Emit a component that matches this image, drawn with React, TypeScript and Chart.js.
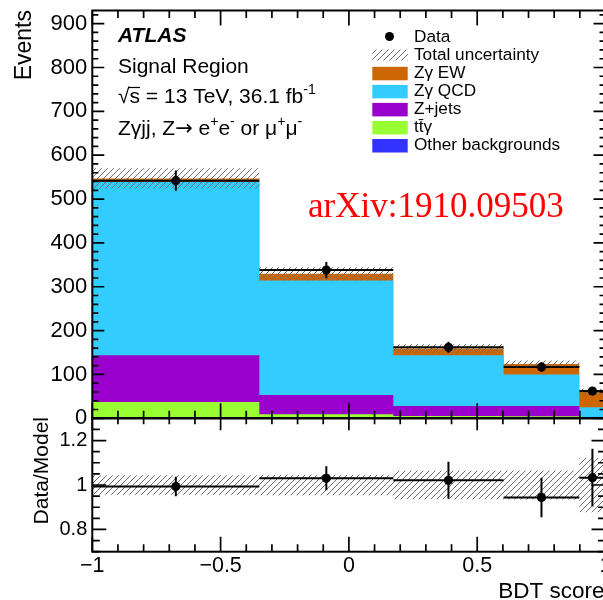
import React, { useEffect, useRef } from "react";
import { Chart, registerables } from "chart.js";

Chart.register(...registerables);

// ---------- data ----------
const binEdges = [-1, -0.349, 0.173, 0.603, 0.898, 1];
const otherBkg = [2.5, 2, 1.5, 1.5, 0.8];
const ttGamma = [34.5, 7.5, 3.5, 3, 0.7];
const zJets = [107, 43.5, 23, 23.5, 1.5];
const zgQCD = [395, 261, 116, 72, 22];
const zgEW = [8, 15.5, 15, 24, 35];
const totalUnc = [23, 15, 10, 8, 7.4];
const dataCounts = [542, 338, 162, 117, 62];
const dataErr = [23.3, 18.4, 12.7, 10.8, 7.9];
const ratioVals = [0.993, 1.03, 1.021, 0.944, 1.033];
const ratioErr = [0.044, 0.054, 0.083, 0.089, 0.13];
const ratioBand = [0.044, 0.046, 0.064, 0.065, 0.123];

const xMajorLabels = [-1, -0.5, 0, 0.5, 1];
const yMainLabels = [0, 100, 200, 300, 400, 500, 600, 700, 800, 900];
const yRatioLabels = [0.8, 1, 1.2];

const legendLabels = ["Data", "Total uncertainty", "Zγ EW", "Zγ QCD", "Z+jets", "tt̄γ", "Other backgrounds"];
const colEW = "#CC6600";
const colQCD = "#33CCFF";
const colZJ = "#9900CC";
const colTT = "#99FF33";
const colOther = "#3333FF";

// ---------- helpers ----------
const nB = binEdges.length - 1;
const centers = binEdges.slice(0, nB).map((e, i) => (e + binEdges[i + 1]) / 2);
const addArr = (a: number[], b: number[]) => a.map((v, i) => v + b[i]);
const cumOther = otherBkg;
const cumTT = addArr(cumOther, ttGamma);
const cumZJ = addArr(cumTT, zJets);
const cumQCD = addArr(cumZJ, zgQCD);
const cumEW = addArr(cumQCD, zgEW);

const stepPts = (vals: number[]) => [
  ...vals.map((v, i) => ({ x: binEdges[i], y: v })),
  { x: binEdges[nB], y: vals[nB - 1] },
];
const errSegs = (vals: number[], errs: number[]) => {
  const pts: { x: number; y: number | null }[] = [];
  vals.forEach((v, i) => {
    const c = centers[i];
    pts.push({ x: c, y: v - errs[i] }, { x: c, y: v + errs[i] }, { x: c, y: null });
    pts.push({ x: binEdges[i], y: v }, { x: binEdges[i + 1], y: v }, { x: binEdges[i + 1], y: null });
  });
  return pts;
};
const near = (a: number, b: number) => Math.abs(a - b) < 1e-6;
const fmt = (v: number) => (v < 0 ? "\u2212" + String(Math.abs(v)) : String(v));

function makeHatch(ctx: CanvasRenderingContext2D) {
  const s = 6;
  const pc = document.createElement("canvas");
  pc.width = s;
  pc.height = s;
  const g = pc.getContext("2d")!;
  g.strokeStyle = "#6e6e6e";
  g.lineWidth = 1;
  g.beginPath();
  g.moveTo(0, s);
  g.lineTo(s, 0);
  g.moveTo(-1, 1);
  g.lineTo(1, -1);
  g.moveTo(s - 1, s + 1);
  g.lineTo(s + 1, s - 1);
  g.stroke();
  return ctx.createPattern(pc, "repeat")!;
}

function drawRuns(ctx: CanvasRenderingContext2D, x: number, y: number, runs: [string, boolean, string?][], size: number) {
  let cx = x;
  for (const [t, sup, fam] of runs) {
    ctx.font = `${sup ? Math.round(size * 0.68) : size}px ${fam || '"Liberation Sans"'}`;
    ctx.fillText(t, cx, sup ? y - size * 0.42 : y);
    cx += ctx.measureText(t).width;
  }
  return cx;
}

const CW = 606;

export default function App() {
  const ref = useRef<HTMLCanvasElement>(null);

  useEffect(() => {
    const canvas = ref.current!;
    const ctx = canvas.getContext("2d")!;
    const hatch = makeHatch(ctx);

    const decorPlugin = {
      id: "decor",
      afterDatasetsDraw(chart: any) {
        const c: CanvasRenderingContext2D = chart.ctx;
        const xs = chart.scales.x;
        const ys = chart.scales.y;
        const rs = chart.scales.y2;
        c.save();
        c.strokeStyle = "#000";
        c.lineWidth = 2;
        c.strokeRect(xs.left, ys.top, xs.right - xs.left, ys.bottom - ys.top);
        c.strokeRect(xs.left, rs.top, xs.right - xs.left, rs.bottom - rs.top);
        c.lineWidth = 1.7;
        c.beginPath();
        for (const t of xs.ticks) {
          const px = xs.getPixelForValue(t.value);
          const maj = t.label !== "";
          const Lm = maj ? 15 : 7.5;
          const Lr = maj ? 12 : 6;
          c.moveTo(px, ys.top);
          c.lineTo(px, ys.top + Lm);
          c.moveTo(px, ys.bottom);
          c.lineTo(px, ys.bottom - Lm);
          c.moveTo(px, rs.top);
          c.lineTo(px, rs.top + Lr);
          c.moveTo(px, rs.bottom);
          c.lineTo(px, rs.bottom - Lm);
        }
        for (const t of ys.ticks) {
          const py = ys.getPixelForValue(t.value);
          const L = t.label !== "" ? 12 : 6;
          c.moveTo(xs.left, py);
          c.lineTo(xs.left + L, py);
          c.moveTo(xs.right, py);
          c.lineTo(xs.right - L, py);
        }
        for (const t of rs.ticks) {
          const py = rs.getPixelForValue(t.value);
          const L = t.label !== "" ? 14 : 7.5;
          c.moveTo(xs.left, py);
          c.lineTo(xs.left + L, py);
          c.moveTo(xs.right, py);
          c.lineTo(xs.right - L, py);
        }
        c.stroke();

        // axis titles
        c.fillStyle = "#000";
        c.font = '23px "Liberation Sans"';
        c.save();
        c.translate(31, ys.top - 0.5);
        c.rotate(-Math.PI / 2);
        c.textAlign = "right";
        c.fillText("Events", 0, 0);
        c.restore();
        c.save();
        c.font = '21px "Liberation Sans"';
        c.translate(48, 417);
        c.rotate(-Math.PI / 2);
        c.textAlign = "right";
        c.fillText("Data/Model", 0, 0);
        c.restore();
        c.textAlign = "right";
        c.font = '22.5px "Liberation Sans"';
        c.fillText("BDT score", 604.5, 598);
        c.textAlign = "left";

        // ATLAS label block
        c.font = 'italic bold 21px "Liberation Sans"';
        c.fillText("ATLAS", 118, 41.5);
        c.font = '21px "Liberation Sans"';
        c.fillText("Signal Region", 118, 73.3);
        const rootW = c.measureText("√").width;
        const sW = c.measureText("s").width;
        drawRuns(c, 118, 103, [["√s = 13 TeV, 36.1 fb", false], ["-1", true]], 21);
        c.lineWidth = 1.2;
        c.beginPath();
        c.moveTo(118 + rootW - 1, 87.5);
        c.lineTo(118 + rootW + sW, 87.5);
        c.stroke();
        drawRuns(
          c,
          118,
          135,
          [
            ["Zγjj, Z", false],
            ["→", false, '"DejaVu Sans"'],
            [" e", false],
            ["+", true],
            ["e", false],
            ["-", true],
            [" or μ", false],
            ["+", true],
            ["μ", false],
            ["-", true],
          ],
          21
        );

        // legend
        const lx = 372.3;
        const bw = 35.4;
        const tx = 414;
        legendLabels.forEach((lab, i) => {
          const base = 41.5 + i * 18.05;
          if (i === 0) {
            c.beginPath();
            c.arc(389.5, base - 5, 4.5, 0, Math.PI * 2);
            c.fillStyle = "#000";
            c.fill();
          } else if (i === 1) {
            c.fillStyle = hatch;
            c.fillRect(lx, base - 10, bw, 11);
          } else {
            const cols = [colEW, colQCD, colZJ, colTT, colOther];
            c.fillStyle = cols[i - 2];
            c.fillRect(lx, base - 10.8, bw, 13.5);
          }
          c.fillStyle = "#000";
          c.font = '17.2px "Liberation Sans"';
          c.fillText(lab, tx, base);
        });

        // watermark
        c.fillStyle = "#FF0000";
        c.font = '35px "Liberation Serif"';
        c.fillText("arXiv:1910.09503", 308, 217);
        c.restore();
      },
    };

    const stackDs = (label: string, vals: number[], color: string, order: number) => ({
      label,
      data: stepPts(vals),
      yAxisID: "y",
      stepped: true,
      borderWidth: 0,
      pointRadius: 0,
      backgroundColor: color,
      borderColor: color,
      fill: "origin",
      order,
    });

    const mainLow = stepPts(cumEW.map((v, i) => v - totalUnc[i]));
    const mainHigh = stepPts(cumEW.map((v, i) => v + totalUnc[i]));
    const ratLow = stepPts(ratioBand.map((u) => 1 - u));
    const ratHigh = stepPts(ratioBand.map((u) => 1 + u));

    const chart = new Chart(canvas, {
      type: "line",
      data: {
        datasets: [
          stackDs("Zγ EW", cumEW, colEW, 20),
          stackDs("Zγ QCD", cumQCD, colQCD, 19),
          stackDs("Z+jets", cumZJ, colZJ, 18),
          stackDs("ttγ", cumTT, colTT, 17),
          stackDs("Other backgrounds", cumOther, colOther, 16),
          {
            label: "unc low",
            data: mainLow,
            yAxisID: "y",
            stepped: true,
            borderWidth: 0,
            pointRadius: 0,
            fill: false,
            order: 10,
          },
          {
            label: "Total uncertainty",
            data: mainHigh,
            yAxisID: "y",
            stepped: true,
            borderWidth: 0,
            pointRadius: 0,
            backgroundColor: hatch,
            fill: "-1",
            order: 9,
          },
          {
            label: "ratio low",
            data: ratLow,
            yAxisID: "y2",
            stepped: true,
            borderWidth: 0,
            pointRadius: 0,
            fill: false,
            order: 8,
          },
          {
            label: "ratio band",
            data: ratHigh,
            yAxisID: "y2",
            stepped: true,
            borderWidth: 0,
            pointRadius: 0,
            backgroundColor: hatch,
            fill: "-1",
            order: 7,
          },
          {
            label: "data err",
            data: errSegs(dataCounts, dataErr),
            yAxisID: "y",
            borderColor: "#000",
            borderWidth: 2,
            pointRadius: 0,
            spanGaps: false,
            fill: false,
            order: 3,
          },
          {
            label: "Data",
            data: dataCounts.map((v, i) => ({ x: centers[i], y: v })),
            yAxisID: "y",
            showLine: false,
            pointRadius: 4.6,
            pointBorderWidth: 0,
            pointBackgroundColor: "#000",
            order: 2,
          },
          {
            label: "ratio err",
            data: errSegs(ratioVals, ratioErr),
            yAxisID: "y2",
            borderColor: "#000",
            borderWidth: 2,
            pointRadius: 0,
            spanGaps: false,
            fill: false,
            order: 3,
          },
          {
            label: "ratio",
            data: ratioVals.map((v, i) => ({ x: centers[i], y: v })),
            yAxisID: "y2",
            showLine: false,
            pointRadius: 4.6,
            pointBorderWidth: 0,
            pointBackgroundColor: "#000",
            order: 2,
          },
        ] as any,
      },
      options: {
        animation: false,
        responsive: false,
        devicePixelRatio: 1,
        events: [],
        layout: { autoPadding: false, padding: { left: 0, top: 10.5, right: 0.5, bottom: 0 } },
        plugins: { legend: { display: false }, tooltip: { enabled: false }, title: { display: false } },
        scales: {
          x: {
            type: "linear",
            position: "bottom",
            min: -1,
            max: 1,
            grid: { display: false, drawTicks: false },
            border: { display: false },
            afterBuildTicks: (s: any) => {
              const t = [];
              for (let k = -10; k <= 10; k++) t.push({ value: k / 10 });
              s.ticks = t;
            },
            ticks: {
              autoSkip: false,
              maxRotation: 0,
              padding: 1,
              color: "#000",
              font: { family: "Liberation Sans", size: 21.5 },
              callback: (v: any) => {
                const m = xMajorLabels.find((q) => near(q, Number(v)));
                return m === undefined ? "" : fmt(m);
              },
            },
            afterFit: (s: any) => {
              s.height = 48.3;
              s.paddingLeft = 0;
              s.paddingRight = 0;
            },
          },
          y: {
            type: "linear",
            position: "left",
            stack: "v",
            stackWeight: 0.7535,
            weight: 1,
            min: 0,
            max: 930,
            grid: { display: false, drawTicks: false },
            border: { display: false },
            afterBuildTicks: (s: any) => {
              const t = [];
              for (let v = 0; v <= 920; v += 20) t.push({ value: v });
              s.ticks = t;
            },
            ticks: {
              autoSkip: false,
              padding: 5,
              color: "#000",
              font: { family: "Liberation Sans", size: 22 },
              callback: (v: any) => {
                const m = yMainLabels.find((q) => near(q, Number(v)));
                return m === undefined ? "" : String(m);
              },
            },
            afterFit: (s: any) => {
              s.width = 92.3;
              s.paddingTop = 0;
              s.paddingBottom = 0;
            },
          },
          y2: {
            type: "linear",
            position: "left",
            stack: "v",
            stackWeight: 0.2465,
            weight: 0,
            min: 0.7,
            max: 1.3,
            grid: { display: false, drawTicks: false },
            border: { display: false },
            afterBuildTicks: (s: any) => {
              const t = [];
              for (let k = 14; k <= 26; k++) t.push({ value: k / 20 });
              s.ticks = t;
            },
            ticks: {
              autoSkip: false,
              padding: 5,
              color: "#000",
              font: { family: "Liberation Sans", size: 20 },
              callback: (v: any) => {
                const m = yRatioLabels.find((q) => near(q, Number(v)));
                return m === undefined ? "" : String(m);
              },
            },
            afterFit: (s: any) => {
              s.width = 92.3;
              s.paddingTop = 0;
              s.paddingBottom = 0;
            },
          },
        },
      } as any,
      plugins: [decorPlugin],
    });

    return () => chart.destroy();
  }, []);

  return (
    <div
      style={{
        position: "absolute",
        left: 0,
        top: 0,
        width: 603,
        height: 600,
        overflow: "hidden",
        background: "#fff",
      }}
    >
      <canvas ref={ref} width={CW} height={600} style={{ display: "block", width: CW, height: 600 }} />
    </div>
  );
}
